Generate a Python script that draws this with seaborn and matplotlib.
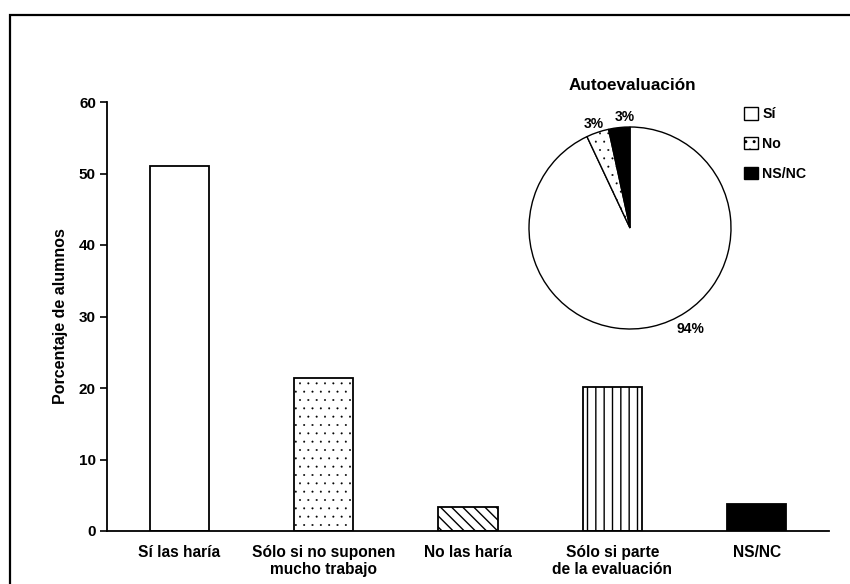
import matplotlib
matplotlib.use("Agg")
import matplotlib.pyplot as plt
import seaborn as sns
import pandas as pd
from matplotlib.patches import Patch, Rectangle

# ---- data ----
categories = ["Sí las haría", "Sólo si no suponen\nmucho trabajo", "No las haría",
              "Sólo si parte\nde la evaluación", "NS/NC"]
values = [51.0, 21.4, 3.4, 20.2, 3.8]
bar_colors = ["white", "white", "white", "white", "black"]
bar_hatches = ["", "..", "\\\\\\", "||", ""]
yticks = [0, 10, 20, 30, 40, 50, 60]

pie_labels = ["Sí", "No", "NS/NC"]
pie_values = [93.0, 3.6, 3.4]
pie_texts = ["94%", "3%", "3%"]
pie_colors = ["white", "white", "black"]
pie_hatches = ["", "..", ""]

sns.set_theme(style="white")
plt.rcParams["font.family"] = ["Liberation Sans", "DejaVu Sans"]
plt.rcParams["font.weight"] = "bold"
plt.rcParams["hatch.linewidth"] = 1.0


def thin_dots(patch, hatch):
    if "." in hatch and hasattr(patch, "set_hatch_linewidth"):
        patch.set_hatch_linewidth(0.2)


W, H = 850, 584
fig = plt.figure(figsize=(W / 100, H / 100), dpi=100)

# outer frame
fig.patches.append(Rectangle((10 / W, -0.2), 1.2, 1 - 15 / H + 0.2, transform=fig.transFigure,
                             fill=False, edgecolor="black", linewidth=1.6, clip_on=False))

ax = fig.add_axes([107 / W, 1 - 531 / H, (829 - 107) / W, (531 - 102) / H])
df = pd.DataFrame({"cat": categories, "val": values})
sns.barplot(data=df, x="cat", y="val", hue="cat", palette=bar_colors, legend=False,
            width=0.41, edgecolor="black", linewidth=1.3, saturation=1, ax=ax)
for p, h in zip(ax.patches, bar_hatches):
    p.set_hatch(h)
    thin_dots(p, h)

ax.set_ylim(0, 60)
ax.set_yticks(yticks)
ax.set_xlim(-0.5, 4.5)
ax.set_xlabel("")
ax.set_ylabel("Porcentaje de alumnos", fontsize=11.5, fontweight="bold", labelpad=8)
for s in ["top", "right"]:
    ax.spines[s].set_visible(False)
for s in ["left", "bottom"]:
    ax.spines[s].set_color("black")
    ax.spines[s].set_linewidth(1.3)
ax.tick_params(axis="y", which="major", left=True, length=5, width=1.2, color="black",
               labelsize=11, pad=3, direction="out")
ax.tick_params(axis="x", bottom=False, labelsize=11.2, pad=4)
for t in ax.get_xticklabels() + ax.get_yticklabels():
    t.set_fontweight("bold")
    t.set_color("black")
ax.yaxis.label.set_color("black")

# ---- pie inset ----
R = 101
cx, cy = 630, 228
side = 2.5 * R
axp = fig.add_axes([(cx - side / 2) / W, 1 - (cy + side / 2) / H, side / W, side / H])
wedges, texts = axp.pie(pie_values, labels=pie_texts, colors=pie_colors, startangle=90,
                        counterclock=False, labeldistance=1.1,
                        wedgeprops=dict(edgecolor="black", linewidth=1.0),
                        textprops=dict(fontsize=10, fontweight="bold", color="black"))
for w, h in zip(wedges, pie_hatches):
    w.set_hatch(h)
    thin_dots(w, h)
label_pos = [(0.6, -1.0), (-0.36, 1.03), (-0.05, 1.10)]
for t, pos in zip(texts, label_pos):
    t.set_position(pos)
    t.set_ha("center")
    t.set_va("center")
axp.set_aspect("equal")

fig.text(632 / W, 1 - 85 / H, "Autoevaluación", ha="center", va="center",
         fontsize=12.3, fontweight="bold", color="black")

handles = []
for c, h in zip(pie_colors, pie_hatches):
    hp = Patch(facecolor=c, edgecolor="black", hatch=h, linewidth=1.0)
    thin_dots(hp, h)
    handles.append(hp)
leg = fig.legend(handles, pie_labels, loc="upper left", bbox_to_anchor=(744 / W, 1 - 107 / H),
                 frameon=False, handlelength=1.0, handleheight=1.0, handletextpad=0.3,
                 labelspacing=1.1, borderpad=0, borderaxespad=0,
                 prop=dict(size=10.2, weight="bold"))
for t in leg.get_texts():
    t.set_color("black")

fig.savefig("out.png", dpi=100)
